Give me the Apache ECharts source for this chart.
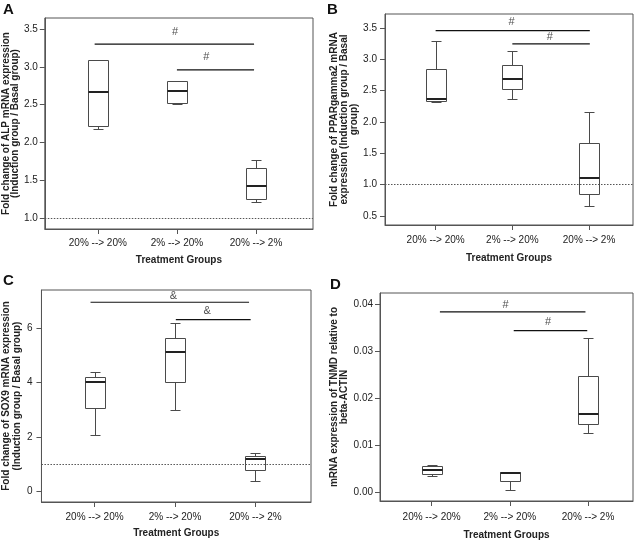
<!DOCTYPE html>
<html><head><meta charset="utf-8">
<script src="https://cdn.jsdelivr.net/npm/echarts@6/dist/echarts.min.js"></script>
<style>html,body{margin:0;padding:0;background:#fff}#c{width:642px;height:541px}</style>
</head><body><div id="c"></div>
<script>
// ---- data ----
const categories = ['20% --> 20%', '2% --> 20%', '20% --> 2%'];
const categoryPositions = [0, 1, 2];
// box statistics per group: [min, Q1, median, Q3, max]
const alpBoxes  = [[2.18, 2.215, 2.67, 3.09, 3.09], [2.505, 2.52, 2.68, 2.81, 2.82], [1.218, 1.25, 1.433, 1.666, 1.767]];
const pparBoxes = [[2.32, 2.33, 2.36, 2.85, 3.29], [2.372, 2.532, 2.69, 2.91, 3.13], [0.655, 0.846, 1.107, 1.67, 2.165]];
const sox9Boxes = [[2.08, 3.06, 4.04, 4.22, 4.41], [2.98, 4.04, 5.14, 5.66, 6.18], [0.39, 0.80, 1.20, 1.32, 1.43]];
const tnmdBoxes = [[0.0035, 0.0038, 0.00472, 0.0055, 0.00585], [0.00035, 0.00233, 0.0041, 0.0042, 0.00423], [0.01248, 0.01453, 0.01657, 0.0247, 0.0327]];
// y tick labels
const alpTicks  = [1.0, 1.5, 2.0, 2.5, 3.0, 3.5];
const pparTicks = [0.5, 1.0, 1.5, 2.0, 2.5, 3.0, 3.5];
const sox9Ticks = [0, 2, 4, 6];
const tnmdTicks = [0.00, 0.01, 0.02, 0.03, 0.04];
// significance brackets: [xStart, xEnd, y]
const alpBrackets  = [[-0.04, 1.975, 3.30], [1.0, 1.975, 2.96]];
const pparBrackets = [[0.0, 2.01, 3.457], [1.0, 2.01, 3.245]];
const sox9Brackets = [[-0.05, 1.92, 6.96], [1.01, 1.94, 6.32]];
const tnmdBrackets = [[0.106, 1.967, 0.0383], [1.05, 1.99, 0.0343]];
// significance marks: [x, y, text]
const alpMarks  = [[0.975, 3.46, '#'], [1.37, 3.13, '#']];
const pparMarks = [[0.99, 3.59, '#'], [1.49, 3.35, '#']];
const sox9Marks = [[0.98, 7.19, '&'], [1.40, 6.64, '&']];
const tnmdMarks = [[0.945, 0.0398, '#'], [1.49, 0.0361, '#']];
// baseline (fold change = 1)
const foldBaseline = 1.0;
// axis titles
const xTitle = 'Treatment Groups';
const alpTitle  = 'Fold change of ALP mRNA expression\n(Induction group / Basal group)';
const pparTitle = 'Fold change of PPARgamma2 mRNA\nexpression (Induction group / Basal\ngroup)';
const sox9Title = 'Fold change of SOX9 mRNA expression\n(Induction group / Basal group)';
const tnmdTitle = 'mRNA expression of TNMD relative to\nbeta-ACTIN';
const panelLetters = ['A', 'B', 'C', 'D'];

// ---- layout ----
const FONT = 'Arial, "Liberation Sans", sans-serif';
const panels = [
  {boxes: alpBoxes, ticks: alpTicks, brackets: alpBrackets, marks: alpMarks, title: alpTitle, baseline: true,
   grid: {left: 42, top: 18, width: 271, height: 211}, x: [-0.67, 2.72], y: [0.86, 3.645], dec: 1,
   nameGap: 21, nameLH: 9, yMargin: 7, xMargin: 9, xNameGap: 26, letter: [3, 2]},
  {boxes: pparBoxes, ticks: pparTicks, brackets: pparBrackets, marks: pparMarks, title: pparTitle, baseline: true,
   grid: {left: 385, top: 14, width: 248, height: 211}, x: [-0.66, 2.573], y: [0.356, 3.723], dec: 1,
   nameGap: 22, nameLH: 10, yMargin: 8, xMargin: 10, xNameGap: 28, letter: [327, 2]},
  {boxes: sox9Boxes, ticks: sox9Ticks, brackets: sox9Brackets, marks: sox9Marks, title: sox9Title, baseline: true,
   grid: {left: 36, top: 290, width: 275, height: 212}, x: [-0.66, 2.69], y: [-0.39, 7.41], dec: 0,
   nameGap: 14, nameLH: 11, yMargin: 9, xMargin: 10, xNameGap: 26, letter: [3, 273]},
  {boxes: tnmdBoxes, ticks: tnmdTicks, brackets: tnmdBrackets, marks: tnmdMarks, title: tnmdTitle, baseline: false,
   grid: {left: 380, top: 293, width: 253, height: 209}, x: [-0.66, 2.575], y: [-0.0019, 0.0423], dec: 2,
   nameGap: 24, nameLH: 10, yMargin: 7, xMargin: 11, xNameGap: 29, letter: [330, 277]}
];

function renderBox(params, api) {
  const x = api.value(0);
  const c = i => api.coord([x, api.value(i)]);
  const mn = c(1), q1 = c(2), md = c(3), q3 = c(4), mx = c(5);
  const cx = Math.round(mn[0]) + 0.5;
  const r = v => Math.round(v) + 0.5;
  const hw = 10, cw = 5;
  const stroke = '#4a4a4a';
  return {
    type: 'group',
    children: [
      {type: 'line', shape: {x1: cx, y1: r(mx[1]), x2: cx, y2: r(q3[1])}, style: {stroke, lineWidth: 1}},
      {type: 'line', shape: {x1: cx, y1: r(q1[1]), x2: cx, y2: r(mn[1])}, style: {stroke, lineWidth: 1}},
      {type: 'line', shape: {x1: cx - cw, y1: r(mx[1]), x2: cx + cw, y2: r(mx[1])}, style: {stroke, lineWidth: 1}},
      {type: 'line', shape: {x1: cx - cw, y1: r(mn[1]), x2: cx + cw, y2: r(mn[1])}, style: {stroke, lineWidth: 1}},
      {type: 'rect', shape: {x: cx - hw, y: r(q3[1]), width: 2 * hw, height: Math.round(q1[1]) - Math.round(q3[1])},
       style: {fill: '#fff', stroke, lineWidth: 1}},
      {type: 'line', shape: {x1: cx - hw, y1: Math.round(md[1]), x2: cx + hw, y2: Math.round(md[1])}, style: {stroke: '#222', lineWidth: 2}}
    ]
  };
}

const grids = [], xAxes = [], yAxes = [], series = [], graphics = [];
panels.forEach((p, i) => {
  grids.push(Object.assign({show: true, borderColor: '#555', borderWidth: 1, containLabel: false}, p.grid));
  xAxes.push({
    type: 'value', gridIndex: i, min: p.x[0], max: p.x[1],
    axisLine: {show: true, onZero: false, lineStyle: {color: '#555', width: 1}},
    axisTick: {show: true, customValues: categoryPositions, length: 5, lineStyle: {color: '#555'}},
    axisLabel: {show: true, customValues: categoryPositions, formatter: v => categories[Math.round(v)],
      fontSize: 10, fontFamily: FONT, color: '#222', margin: p.xMargin},
    splitLine: {show: false},
    name: xTitle, nameLocation: 'middle', nameGap: p.xNameGap,
    nameTextStyle: {fontSize: 10, fontWeight: 'bold', fontFamily: FONT, color: '#222'}
  });
  yAxes.push({
    type: 'value', gridIndex: i, min: p.y[0], max: p.y[1],
    axisLine: {show: true, onZero: false, lineStyle: {color: '#555', width: 1}},
    axisTick: {show: true, customValues: p.ticks, length: 5, lineStyle: {color: '#555'}},
    axisLabel: {show: true, customValues: p.ticks, formatter: v => Number(v).toFixed(p.dec),
      fontSize: 10, fontFamily: FONT, color: '#222', margin: p.yMargin},
    splitLine: {show: false},
    name: p.title, nameLocation: 'middle', nameGap: p.nameGap, nameRotate: 90,
    nameTextStyle: {fontSize: 10, fontWeight: 'bold', fontFamily: FONT, color: '#222', lineHeight: p.nameLH, align: 'center'}
  });
  series.push({
    type: 'custom', xAxisIndex: i, yAxisIndex: i, renderItem: renderBox, silent: true, z: 3,
    encode: {x: 0, y: [1, 2, 3, 4, 5]},
    data: p.boxes.map((b, k) => [categoryPositions[k]].concat(b))
  });
  p.brackets.forEach((b, k) => {
    const s = {
      type: 'line', xAxisIndex: i, yAxisIndex: i, silent: true, symbol: 'none', z: 4,
      lineStyle: {color: '#111', width: 1.2},
      data: [[b[0], b[2]], [b[1], b[2]]]
    };
    if (k === 0 && p.baseline) {
      s.markLine = {silent: true, symbol: 'none', label: {show: false},
        lineStyle: {color: '#555', width: 1, type: [1.5, 1.5]},
        data: [{yAxis: foldBaseline}]};
    }
    series.push(s);
  });
  series.push({
    type: 'scatter', xAxisIndex: i, yAxisIndex: i, silent: true, symbolSize: 0, z: 5,
    label: {show: true, position: 'inside', formatter: d => d.data[2], fontSize: 11, fontFamily: FONT, color: '#222'},
    data: p.marks
  });
  graphics.push({type: 'text', left: p.letter[0], top: p.letter[1],
    style: {text: panelLetters[i], font: 'bold 15px ' + FONT, fill: '#111'}});
});

const chart = echarts.init(document.getElementById('c'), null, {renderer: 'canvas'});
chart.setOption({
  animation: false,
  backgroundColor: '#fff',
  grid: grids, xAxis: xAxes, yAxis: yAxes, series, graphic: graphics
});
</script>
</body></html>
